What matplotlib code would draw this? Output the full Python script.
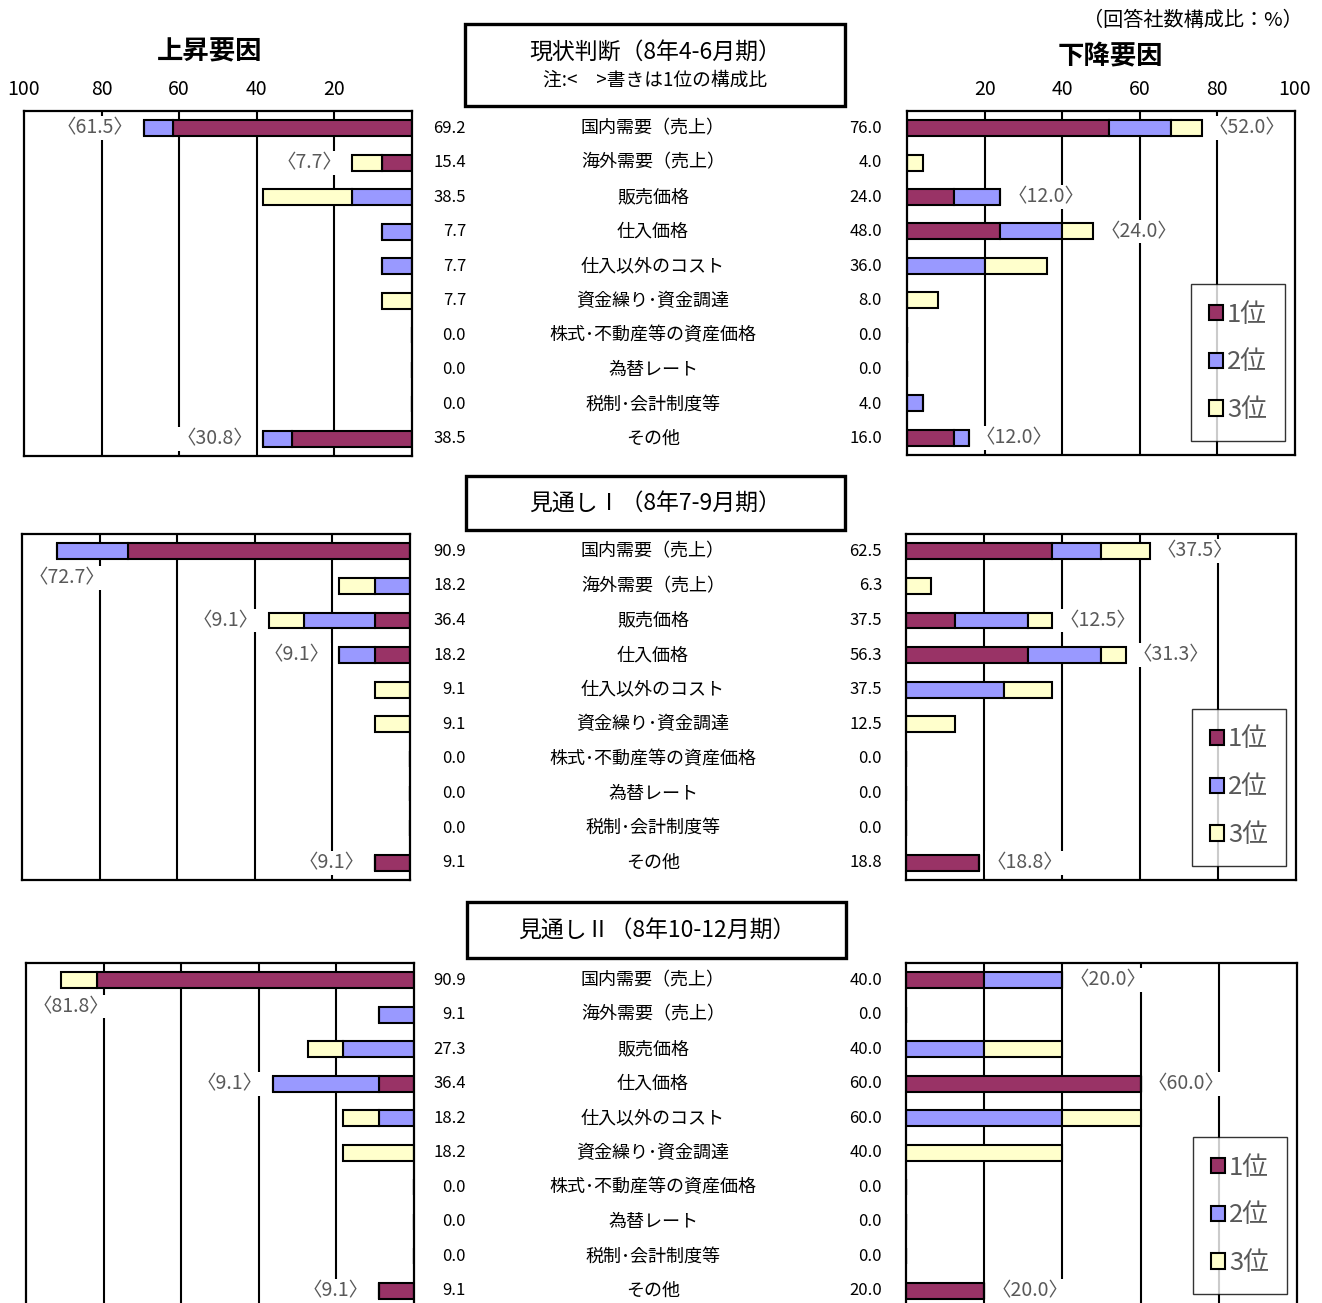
import matplotlib
matplotlib.use('Agg')
import matplotlib.pyplot as plt
from matplotlib.patches import Patch, Rectangle
from matplotlib import transforms

plt.rcParams['font.family'] = ['Noto Sans CJK JP', 'DejaVu Sans']

# ---- data ----
categories = ['国内需要（売上）', '海外需要（売上）', '販売価格', '仕入価格', '仕入以外のコスト',
              '資金繰り･資金調達', '株式･不動産等の資産価格', '為替レート', '税制･会計制度等', 'その他']
rank_labels = ['1位', '2位', '3位']
rank_colors = ['#993366', '#9999FF', '#FFFFCC']

section_titles = ['現状判断（8年4-6月期）', '見通しⅠ（8年7-9月期）', '見通しⅡ（8年10-12月期）']

# 上昇要因 (rise factors)
up1_s1 = [61.5, 7.7, 0, 0, 0, 0, 0, 0, 0, 30.8]
up2_s1 = [7.7, 0, 15.4, 7.7, 7.7, 0, 0, 0, 0, 7.7]
up3_s1 = [0, 7.7, 23.1, 0, 0, 7.7, 0, 0, 0, 0]
up_tot_s1 = [69.2, 15.4, 38.5, 7.7, 7.7, 7.7, 0.0, 0.0, 0.0, 38.5]

up1_s2 = [72.7, 0, 9.1, 9.1, 0, 0, 0, 0, 0, 9.1]
up2_s2 = [18.2, 9.1, 18.2, 9.1, 0, 0, 0, 0, 0, 0]
up3_s2 = [0, 9.1, 9.1, 0, 9.1, 9.1, 0, 0, 0, 0]
up_tot_s2 = [90.9, 18.2, 36.4, 18.2, 9.1, 9.1, 0.0, 0.0, 0.0, 9.1]

up1_s3 = [81.8, 0, 0, 9.1, 0, 0, 0, 0, 0, 9.1]
up2_s3 = [0, 9.1, 18.2, 27.3, 9.1, 0, 0, 0, 0, 0]
up3_s3 = [9.1, 0, 9.1, 0, 9.1, 18.2, 0, 0, 0, 0]
up_tot_s3 = [90.9, 9.1, 27.3, 36.4, 18.2, 18.2, 0.0, 0.0, 0.0, 9.1]

# 下降要因 (fall factors)
dn1_s1 = [52.0, 0, 12.0, 24.0, 0, 0, 0, 0, 0, 12.0]
dn2_s1 = [16.0, 0, 12.0, 16.0, 20.0, 0, 0, 0, 4.0, 4.0]
dn3_s1 = [8.0, 4.0, 0, 8.0, 16.0, 8.0, 0, 0, 0, 0]
dn_tot_s1 = [76.0, 4.0, 24.0, 48.0, 36.0, 8.0, 0.0, 0.0, 4.0, 16.0]

dn1_s2 = [37.5, 0, 12.5, 31.3, 0, 0, 0, 0, 0, 18.8]
dn2_s2 = [12.5, 0, 18.7, 18.7, 25.0, 0, 0, 0, 0, 0]
dn3_s2 = [12.5, 6.3, 6.3, 6.3, 12.5, 12.5, 0, 0, 0, 0]
dn_tot_s2 = [62.5, 6.3, 37.5, 56.3, 37.5, 12.5, 0.0, 0.0, 0.0, 18.8]

dn1_s3 = [20.0, 0, 0, 60.0, 0, 0, 0, 0, 0, 20.0]
dn2_s3 = [20.0, 0, 20.0, 0, 40.0, 0, 0, 0, 0, 0]
dn3_s3 = [0, 0, 20.0, 0, 20.0, 40.0, 0, 0, 0, 0]
dn_tot_s3 = [40.0, 0.0, 40.0, 60.0, 60.0, 40.0, 0.0, 0.0, 0.0, 20.0]

ticks = [20, 40, 60, 80, 100]

W, H = 1322, 1303
fig = plt.figure(figsize=(W / 100, H / 100), dpi=100)


def rect(x0, y0, x1, y1):
    return [x0 / W, 1 - y1 / H, (x1 - x0) / W, (y1 - y0) / H]


GRAY = '#595959'

sections = [
    dict(up=(up1_s1, up2_s1, up3_s1), up_tot=up_tot_s1, dn=(dn1_s1, dn2_s1, dn3_s1), dn_tot=dn_tot_s1,
         left=(24, 111, 412, 456), right=(907, 111, 1295, 455), box=(465, 24, 845, 106)),
    dict(up=(up1_s2, up2_s2, up3_s2), up_tot=up_tot_s2, dn=(dn1_s2, dn2_s2, dn3_s2), dn_tot=dn_tot_s2,
         left=(22, 534, 410, 880), right=(906, 534, 1296, 880), box=(466, 476, 845, 530)),
    dict(up=(up1_s3, up2_s3, up3_s3), up_tot=up_tot_s3, dn=(dn1_s3, dn2_s3, dn3_s3), dn_tot=dn_tot_s3,
         left=(26, 963, 414, 1308), right=(906, 963, 1297, 1308), box=(467, 902, 846, 958)),
]

rows = list(range(len(categories)))


def style_axes(ax, invert):
    ax.set_ylim(9.5, -0.5)
    if invert:
        ax.set_xlim(100, 0)
    else:
        ax.set_xlim(0, 100)
    ax.set_yticks([])
    ax.set_xticks(ticks)
    ax.tick_params(axis='x', length=0, top=False, bottom=False, labeltop=False, labelbottom=False)
    for x in [20, 40, 60, 80]:
        ax.axvline(x, color='black', lw=1.5, zorder=0)
    for s in ax.spines.values():
        s.set_linewidth(1.6)


for k, sec in enumerate(sections):
    axl = fig.add_axes(rect(*sec['left']))
    axr = fig.add_axes(rect(*sec['right']))
    style_axes(axl, True)
    style_axes(axr, False)

    # stacked bars
    for ax, parts in ((axl, sec['up']), (axr, sec['dn'])):
        base = [0] * len(categories)
        for vals, col in zip(parts, rank_colors):
            ax.barh(rows, vals, left=base, height=0.46, color=col, edgecolor='black',
                    linewidth=1.5, zorder=2)
            base = [b + v for b, v in zip(base, vals)]

    # <1位> labels
    for i in rows:
        v1 = sec['up'][0][i]
        if v1 > 0:
            tot = sec['up_tot'][i]
            if tot > 80:
                axl.annotate('〈%.1f〉' % v1, (100, i), xytext=(5, -19), textcoords='offset points',
                             ha='left', va='center', fontsize=14, color=GRAY, zorder=3,
                             bbox=dict(fc='white', ec='none', pad=1))
            else:
                axl.annotate('〈%.1f〉' % v1, (tot, i), xytext=(-7, 0), textcoords='offset points',
                             ha='right', va='center', fontsize=14, color=GRAY, zorder=3,
                             bbox=dict(fc='white', ec='none', pad=1))
        d1 = sec['dn'][0][i]
        if d1 > 0:
            tot = sec['dn_tot'][i]
            axr.annotate('〈%.1f〉' % d1, (tot, i), xytext=(5, 0), textcoords='offset points',
                         ha='left', va='center', fontsize=14, color=GRAY, zorder=3,
                         bbox=dict(fc='white', ec='none', pad=1))

    # middle column: totals and category names
    tr = transforms.blended_transform_factory(fig.transFigure, axl.transData)
    for i in rows:
        fig.text(466 / W, i, '%.1f' % sec['up_tot'][i], transform=tr, ha='right', va='center', fontsize=12)
        fig.text(653 / W, i, categories[i], transform=tr, ha='center', va='center', fontsize=13)
        fig.text(882 / W, i, '%.1f' % sec['dn_tot'][i], transform=tr, ha='right', va='center', fontsize=12)

    # title box
    bx0, by0, bx1, by1 = sec['box']
    fig.patches.append(Rectangle((bx0 / W, 1 - by1 / H), (bx1 - bx0) / W, (by1 - by0) / H,
                                 transform=fig.transFigure, fill=False, ec='black', lw=2.4))
    if k == 0:
        fig.text((bx0 + bx1) / 2 / W, 1 - 53 / H, section_titles[k], ha='center', va='center', fontsize=16.5)
        fig.text((bx0 + bx1) / 2 / W, 1 - 80 / H, '注:<　>書きは1位の構成比', ha='center', va='center',
                 fontsize=13.5)
    else:
        fig.text((bx0 + bx1) / 2 / W, 1 - (by0 + by1) / 2 / H, section_titles[k], ha='center', va='center',
                 fontsize=16.5)

    # legend
    handles = [Patch(facecolor=c, edgecolor='black', linewidth=1.5) for c in rank_colors]
    leg = axr.legend(handles, rank_labels, loc='lower right', bbox_to_anchor=(0.974, 0.04),
                     borderaxespad=0, fontsize=18.5, frameon=True, fancybox=False,
                     handlelength=0.55, handleheight=0.55, handletextpad=0.15,
                     labelspacing=0.85, borderpad=0.7, labelcolor=GRAY)
    leg.get_frame().set_edgecolor('black')
    leg.get_frame().set_linewidth(1.0)

    # top tick labels only for the first section
    if k == 0:
        axl.tick_params(axis='x', labeltop=True, labelsize=14, pad=8)
        axl.set_xticks(ticks)
        axl.set_xticklabels([str(t) for t in ticks])
        axr.tick_params(axis='x', labeltop=True, labelsize=14, pad=8)
        axr.set_xticklabels([str(t) for t in ticks])

fig.text(210 / W, 1 - 52 / H, '上昇要因', ha='center', va='center', fontsize=19, fontweight='bold')
fig.text(1110 / W, 1 - 57 / H, '下降要因', ha='center', va='center', fontsize=19, fontweight='bold')
fig.text(1303 / W, 1 - 20 / H, '（回答社数構成比：%）', ha='right', va='center', fontsize=14.5)

fig.savefig('out.png', dpi=100)
